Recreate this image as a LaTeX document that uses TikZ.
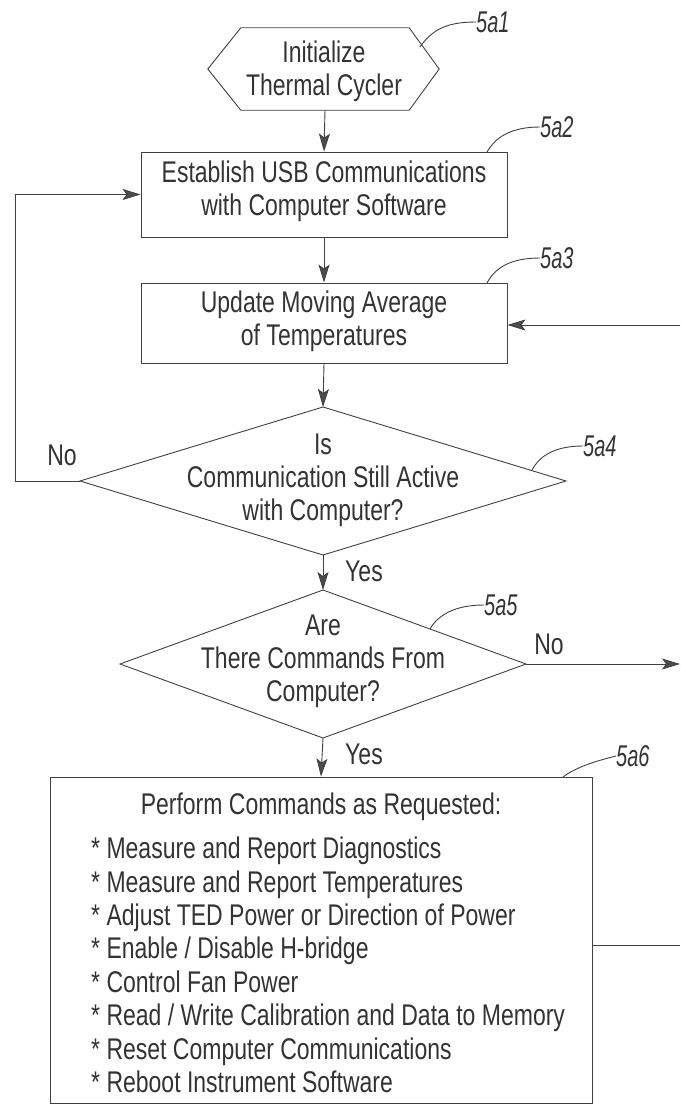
\documentclass[tikz,border=0pt]{standalone}
\usepackage{fontspec}
\usepackage{graphicx}
\setmainfont{Liberation Sans}
\usetikzlibrary{arrows.meta,calc}

% tall, narrow lettering of the drawing
\newcommand{\stretchln}[1]{\scalebox{1}[1.3]{#1}}
\newcommand{\refnum}[1]{\scalebox{1}[1.5]{#1}}
% keep the baseline distance fixed for the stretched lines
\AtBeginDocument{\lineskiplimit=-100pt\relax}

\tikzset{
  flow/.style={draw=black!75, line width=0.9pt},
  arr/.style={flow, -{Stealth[length=18pt,width=11pt,inset=4pt,fill=black!70]}},
  txt/.style={align=center, font=\fontsize{23}{33}\selectfont, text=black!80, inner sep=0pt},
  listtxt/.style={align=left, font=\fontsize{23}{33.4}\selectfont, text=black!80, inner sep=0pt},
  procbox/.style={draw=black!75, line width=0.9pt, inner sep=0pt},
  reflabel/.style={font=\fontsize{20}{24}\selectfont\itshape, text=black!80, inner sep=0pt},
  leader/.style={draw=black!75, line width=0.9pt},
}

\begin{document}
\begin{tikzpicture}[x=1pt,y=-1pt]
\useasboundingbox (0,0) rectangle (680,1108);

% --- start: hexagonal terminator
\node[inner sep=0pt, minimum width=168pt, minimum height=82pt] (init) at (325,69) {};
\node[txt] (initt) at (324,71) {\stretchln{Initialize}\\\stretchln{Thermal Cycler}};
\draw[flow] (init.north west) -- (init.north east) -- ($(init.east)+(30,0)$)
  -- (init.south east) -- (init.south west) -- ($(init.west)+(-33,0)$) -- cycle;

% --- process boxes
\node[procbox, minimum width=366pt, minimum height=85pt] (b2) at (324,194.5) {};
\node[txt] (b2t) at (324,191) {\stretchln{Establish USB Communications}\\\stretchln{with Computer Software}};

\node[procbox, minimum width=366pt, minimum height=80pt] (b3) at (324,323) {};
\node[txt] (b3t) at (324,321.5) {\stretchln{Update Moving Average}\\\stretchln{of Temperatures}};

% --- decision 1
\node[txt] (q1) at (323,480) {\stretchln{Is}\\\stretchln{Communication Still Active}\\\stretchln{with Computer?}};
\path (323,481) coordinate (q1c)
  +(0,-74) coordinate (q1n) +(243,0) coordinate (q1e)
  +(0,74) coordinate (q1s) +(-243,0) coordinate (q1w);
\draw[flow] (q1n) -- (q1e) -- (q1s) -- (q1w) -- cycle;

% --- decision 2
\node[txt] (q2) at (323,661) {\stretchln{Are}\\\stretchln{There Commands From}\\\stretchln{Computer?}};
\path (323,664) coordinate (q2c)
  +(0,-74) coordinate (q2n) +(203,0) coordinate (q2e)
  +(0,74) coordinate (q2s) +(-203,0) coordinate (q2w);
\draw[flow] (q2n) -- (q2e) -- (q2s) -- (q2w) -- cycle;

% --- command box
\node[procbox, minimum width=542pt, minimum height=326pt] (b6) at (321,940) {};
\node[txt] (b6t) at (321,807) {\stretchln{Perform Commands as Requested:}};
\node[listtxt, anchor=west] (b6l) at (91,965) {%
\stretchln{* Measure and Report Diagnostics}\\
\stretchln{* Measure and Report Temperatures}\\
\stretchln{* Adjust TED Power or Direction of Power}\\
\stretchln{* Enable / Disable H-bridge}\\
\stretchln{* Control Fan Power}\\
\stretchln{* Read / Write Calibration and Data to Memory}\\
\stretchln{* Reset Computer Communications}\\
\stretchln{* Reboot Instrument Software}};

% --- main flow
\draw[arr] (init.south) -- (b2.north);
\draw[arr] (b2.south) -- (b3.north);
\draw[arr] (b3.south) -- (q1n);
\draw[arr] (q1s) -- (q2n);
\draw[arr] (q2s) -- (b6.north);

\node[txt] (yes1) at (364,571) {\stretchln{Yes}};
\node[txt] (yes2) at (364,754) {\stretchln{Yes}};

% --- "No" loop back to communications
\coordinate (lp) at (15,481);
\draw[arr] (q1w) -- (lp) |- (b2.west);
\node[txt] (no1) at (62,455) {\stretchln{No}};

% --- exits and returns at the right margin
\coordinate (outq2) at (680,664);
\draw[arr] (q2e) -- (outq2);
\node[txt] (no2) at (549,644) {\stretchln{No}};

\coordinate (inb3) at (680,325);
\draw[arr] (inb3) -- (b3.east |- inb3);

\coordinate (outb6) at (680,945);
\draw[flow] (b6.east |- outb6) -- (outb6);

% --- reference numerals
\node[reflabel, anchor=west] (l1) at (476,22) {\refnum{5a1}};
\draw[leader] (420,47) .. controls (432,30) and (446,22) .. (l1.west);
\node[reflabel, anchor=west] (l2) at (540,127) {\refnum{5a2}};
\draw[leader] (487,152) .. controls (495,138) and (510,127) .. (l2.west);
\node[reflabel, anchor=west] (l3) at (540,258) {\refnum{5a3}};
\draw[leader] (487,283) .. controls (495,268) and (510,258) .. (l3.west);
\node[reflabel, anchor=west] (l4) at (583,446) {\refnum{5a4}};
\draw[leader] (532,470) .. controls (540,455) and (556,446) .. (l4.west);
\node[reflabel, anchor=west] (l5) at (484,605) {\refnum{5a5}};
\draw[leader] (430,629) .. controls (438,615) and (455,605) .. (l5.west);
\node[reflabel, anchor=west] (l6) at (616,756) {\refnum{5a6}};
\draw[leader] (563,777) .. controls (575,768) and (592,762) .. (l6.west);
\end{tikzpicture}
\end{document}
